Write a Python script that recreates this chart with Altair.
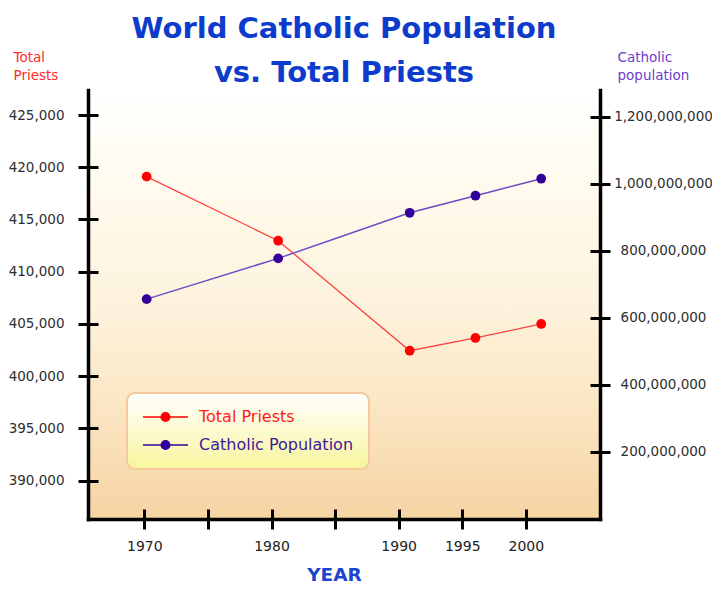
import altair as alt
import pandas as pd

# ---- data ----
years = [1970, 1980, 1990, 1995, 2000]
priests = [419100, 412970, 402440, 403660, 405000]
population = [655800000, 777300000, 913400000, 964200000, 1014900000]
series_names = ["Total Priests", "Catholic Population"]
x_ticks = [1970, 1975, 1980, 1985, 1990, 1995, 2000]
priest_ticks = [390000, 395000, 400000, 405000, 410000, 415000, 420000, 425000]
pop_ticks = [200000000, 400000000, 600000000, 800000000, 1000000000, 1200000000]

df_p = pd.DataFrame({"year": years, "value": priests, "series": series_names[0]})
df_c = pd.DataFrame({"year": years, "value": population, "series": series_names[1]})
df_t = pd.DataFrame({"year": x_ticks})

W, H = 512, 429
FONT = "DejaVu Sans"
POINT_X_DOMAIN = [1965.54, 2004.47]
AXIS_X_DOMAIN = [1965.57, 2005.83]
P_DOMAIN = [386335, 427393]
C_DOMAIN = [0, 1279600000]

color_scale = alt.Scale(domain=series_names, range=["#ff0000", "#330099"])

legend = alt.Legend(
    title=None, orient="none", legendX=39, legendY=303,
    padding=15, cornerRadius=8, strokeColor="#f4c99c",
    fillColor=alt.ExprRef(expr="{gradient: 'linear', x1: 0, y1: 0, x2: 0, y2: 1, stops: [{offset: 0, color: '#ffffff'}, {offset: 1, color: '#f8f59e'}]}"),
    symbolType="M-1,0H1M0.19,0A0.19,0.19,0,1,1,-0.19,0A0.19,0.19,0,1,1,0.19,0Z",
    symbolSize=2025, symbolStrokeWidth=1.5, symbolOpacity=1,
    symbolStrokeColor=alt.ExprRef(expr="datum.value == 'Total Priests' ? '#ff0000' : '#330099'"),
    clipHeight=18, rowPadding=10, labelOffset=10,
    labelFont=FONT, labelFontSize=16,
    labelColor=alt.ExprRef(expr="datum.value == 'Total Priests' ? '#ff1a1a' : '#3a1a99'"),
)

bg = alt.Chart(alt.Data(values=[{}])).mark_rect(
    fill=alt.Gradient(gradient="linear", x1=0, y1=0, x2=0, y2=1,
                      stops=[alt.GradientStop(color="#fffffe", offset=0),
                             alt.GradientStop(color="#fffaec", offset=0.25),
                             alt.GradientStop(color="#fdf3dd", offset=0.5),
                             alt.GradientStop(color="#fbe5c2", offset=0.75),
                             alt.GradientStop(color="#f6d4a3", offset=1)])
).encode(x=alt.value(0), x2=alt.value(W), y=alt.value(0), y2=alt.value(H))

# priests
xp = alt.X("year:Q", scale=alt.Scale(domain=POINT_X_DOMAIN, nice=False, zero=False), axis=None)
yp = alt.Y("value:Q", scale=alt.Scale(domain=P_DOMAIN, nice=False, zero=False),
           axis=alt.Axis(orient="left", offset=-10, tickSize=20, tickWidth=3, tickColor="black",
                         domain=False, grid=False, values=priest_ticks, format=",d",
                         labelFont=FONT, labelFontSize=13.5, labelColor="#2e2e2e", labelPadding=14,
                         labelOverlap=False, zindex=2,
                         title=["Total", "Priests"], titleColor="#ff2a2a", titleFont=FONT,
                         titleFontSize=13.5, titleFontWeight="normal", titleAngle=0,
                         titleAlign="left", titleBaseline="top", titleX=-85, titleY=-40,
                         titleLineHeight=18))
p_line = alt.Chart(df_p).mark_line(color="#ff4040", strokeWidth=1.3).encode(x=xp, y=yp)
p_pts = alt.Chart(df_p).mark_circle(size=95, opacity=1).encode(
    x=xp, y=yp, color=alt.Color("series:N", scale=color_scale, legend=legend))
priests_layer = alt.layer(p_line, p_pts)

# population
xc = alt.X("year:Q", scale=alt.Scale(domain=POINT_X_DOMAIN, nice=False, zero=False), axis=None)
yc = alt.Y("value:Q", scale=alt.Scale(domain=C_DOMAIN, nice=False, zero=False),
           axis=alt.Axis(orient="right", offset=-10, tickSize=20, tickWidth=3, tickColor="black",
                         domain=False, grid=False, values=pop_ticks, format=",d",
                         labelFont=FONT, labelFontSize=13.5, labelColor="#2e2e2e",
                         labelAlign="center", labelPadding=53, labelOverlap=False, zindex=2,
                         title=["Catholic", "population"], titleColor="#6a3fcc", titleFont=FONT,
                         titleFontSize=13.5, titleFontWeight="normal", titleAngle=0,
                         titleAlign="left", titleBaseline="top", titleX=27, titleY=-40,
                         titleLineHeight=18))
c_line = alt.Chart(df_c).mark_line(color="#6a4cc4", strokeWidth=1.5).encode(x=xc, y=yc)
c_pts = alt.Chart(df_c).mark_circle(size=95, opacity=1).encode(
    x=xc, y=yc, color=alt.Color("series:N", scale=color_scale, legend=legend))
pop_layer = alt.layer(c_line, c_pts)

# x axis (ticks + labels) and left frame line
xa = alt.X("year:Q", scale=alt.Scale(domain=AXIS_X_DOMAIN, nice=False, zero=False),
           axis=alt.Axis(orient="bottom", offset=-10, tickSize=20, tickWidth=3, tickColor="black",
                         domain=False, grid=False, values=x_ticks, format="d",
                         labelExpr="datum.value == 1975 || datum.value == 1985 ? '' : datum.label",
                         labelFont=FONT, labelFontSize=14, labelColor="#222222", labelPadding=10,
                         labelOverlap=False, labelFlush=False, zindex=2,
                         title="YEAR", titleFont=FONT, titleFontSize=18.5, titleFontWeight="bold",
                         titleColor="#1c45cc", titleX=246, titleY=65, titleAlign="center",
                         titleBaseline="middle"))
ya = alt.Y("year:Q", scale=alt.Scale(domain=AXIS_X_DOMAIN, nice=False, zero=False),
           axis=alt.Axis(orient="left", domain=True, domainWidth=3.5, domainColor="black",
                         ticks=False, labels=False, grid=False, title=None, zindex=2))
axis_layer = alt.Chart(df_t).mark_point(opacity=0).encode(x=xa, y=ya)

# bottom and right frame lines
xb = alt.X("year:Q", scale=alt.Scale(domain=AXIS_X_DOMAIN, nice=False, zero=False),
           axis=alt.Axis(orient="bottom", domain=True, domainWidth=3.5, domainColor="black",
                         ticks=False, labels=False, grid=False, title=None, zindex=2))
yb = alt.Y("year:Q", scale=alt.Scale(domain=AXIS_X_DOMAIN, nice=False, zero=False),
           axis=alt.Axis(orient="right", domain=True, domainWidth=3.5, domainColor="black",
                         ticks=False, labels=False, grid=False, title=None, zindex=2))
frame_layer = alt.Chart(df_t).mark_point(opacity=0).encode(x=xb, y=yb)

chart = alt.layer(bg, priests_layer, pop_layer, axis_layer, frame_layer).resolve_scale(
    x="independent", y="independent"
).properties(
    width=W, height=H,
    autosize=alt.AutoSizeParams(type="none"),
    padding={"left": 80, "top": 82, "right": 112, "bottom": 70},
    title=alt.Title(["World Catholic Population", "vs. Total Priests"], font=FONT, fontSize=29,
                    fontWeight="bold", color="#0d3ccc", lineHeight=44, anchor="middle",
                    frame="group", offset=-38),
).configure_view(stroke=None).configure_axis(domainCap="square").configure_legend(
    strokeWidth=2
)

chart.save("out.html", embed_options={"renderer": "svg", "actions": False})
